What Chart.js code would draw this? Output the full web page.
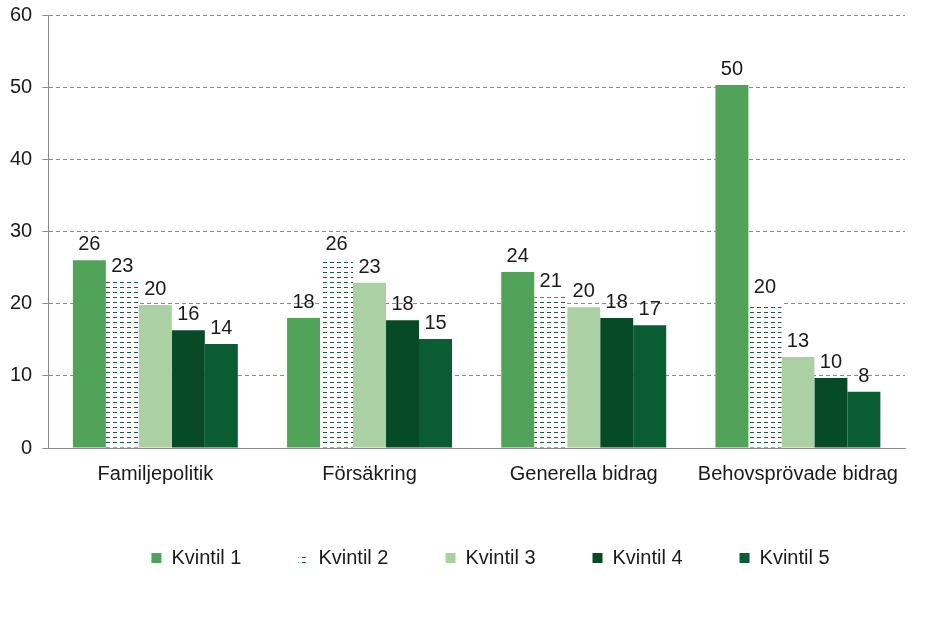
<!DOCTYPE html>
<html>
<head>
<meta charset="utf-8">
<script src="https://cdn.jsdelivr.net/npm/chart.js@4.4.1/dist/chart.umd.min.js"></script>
<style>
  html, body { margin: 0; padding: 0; background: #fff; }
  #wrap { width: 944px; height: 618px; }
</style>
</head>
<body>
<div id="wrap"><canvas id="quintileChart" width="944" height="618"></canvas></div>
<script>
// ==============================
// DATA
// ==============================

const categories = ["Familjepolitik", "Försäkring", "Generella bidrag", "Behovsprövade bidrag"];

const kvintil1 = [26.0, 18.0, 24.4, 50.3];
const kvintil2 = [23.0, 26.0, 20.9, 20.1];
const kvintil3 = [19.8, 22.9, 19.5, 12.6];
const kvintil4 = [16.3, 17.7, 18.0, 9.7];
const kvintil5 = [14.4, 15.1, 17.0, 7.8];

const seriesNames = ["Kvintil 1", "Kvintil 2", "Kvintil 3", "Kvintil 4", "Kvintil 5"];

const yTicks = [0, 10, 20, 30, 40, 50, 60];


// ==============================
// PATTERN FOR KVINTIL 2
// ==============================

function makeDashPattern(){

    const c = document.createElement("canvas");
    c.width = 7;
    c.height = 5;
    const g = c.getContext("2d");

    g.fillStyle = "#ffffff";
    g.fillRect(0, 0, 7, 5);

    g.fillStyle = "#1f5e3a";
    g.fillRect(1, 2, 4, 1);

    return g.createPattern(c, "repeat");
}


// ==============================
// VALUE LABELS + LEGEND SHIFT
// ==============================

const FONT = "'Liberation Sans', Arial, sans-serif";

const valueLabels = {
    id: "valueLabels",
    afterDatasetsDraw(chart){
        const ctx = chart.ctx;
        ctx.save();
        ctx.font = "20px " + FONT;
        ctx.fillStyle = "#1a1a1a";
        ctx.textAlign = "center";
        ctx.textBaseline = "alphabetic";
        chart.data.datasets.forEach((ds, i) => {
            chart.getDatasetMeta(i).data.forEach((bar, j) => {
                ctx.fillText(Math.round(ds.data[j]), bar.x, bar.y - 10);
            });
        });
        ctx.restore();
    }
};

// the legend in the original sits a bit right of centre
const legendShift = {
    id: "legendShift",
    afterLayout(chart){
        if(!chart.legend) return;
        chart.legend.left += 38;
        chart.legend.right += 38;
    }
};


// ==============================
// CHART
// ==============================

const canvas = document.getElementById("quintileChart");

const colors = ["#52a35a", makeDashPattern(), "#abd0a3", "#064b26", "#0a5c32"];
const values = [kvintil1, kvintil2, kvintil3, kvintil4, kvintil5];

new Chart(canvas, {

    type: "bar",

    data: {
        labels: categories,
        datasets: seriesNames.map((name, i) => ({
            label: name,
            data: values[i],
            backgroundColor: colors[i],
            borderWidth: 0
        }))
    },

    options: {
        responsive: false,
        animation: false,
        layout: {
            padding: { top: 15, right: 39, bottom: 40, left: 0 }
        },
        datasets: {
            bar: { categoryPercentage: 0.77, barPercentage: 1.0 }
        },
        plugins: {
            legend: {
                position: "bottom",
                labels: {
                    boxWidth: 10,
                    boxHeight: 10,
                    padding: 57,
                    color: "#1a1a1a",
                    font: { size: 20, family: FONT }
                }
            },
            tooltip: { enabled: false }
        },
        scales: {
            x: {
                grid: { display: false, drawTicks: false },
                border: { display: true, color: "#8c8c8c", width: 1 },
                ticks: {
                    color: "#1a1a1a",
                    padding: 14,
                    maxRotation: 0,
                    font: { size: 20, family: FONT }
                },
                afterFit(axis){
                    axis.height = 43;
                }
            },
            y: {
                min: 0,
                max: 60,
                afterBuildTicks(axis){
                    axis.ticks = yTicks.map(v => ({ value: v }));
                },
                afterFit(axis){
                    axis.paddingTop = 0;
                    axis.paddingBottom = 0;
                },
                grid: {
                    color: c => c.tick && c.tick.value === 0 ? "rgba(0,0,0,0)" : "#8c8c8c",
                    tickColor: "#8c8c8c",
                    tickLength: 6,
                    tickBorderDash: [],
                    lineWidth: 1
                },
                border: { display: true, color: "#8c8c8c", width: 1, dash: [4, 3] },
                ticks: {
                    color: "#1a1a1a",
                    padding: 10,
                    font: { size: 20, family: FONT }
                }
            }
        }
    },

    plugins: [valueLabels, legendShift]

});
</script>
</body>
</html>
